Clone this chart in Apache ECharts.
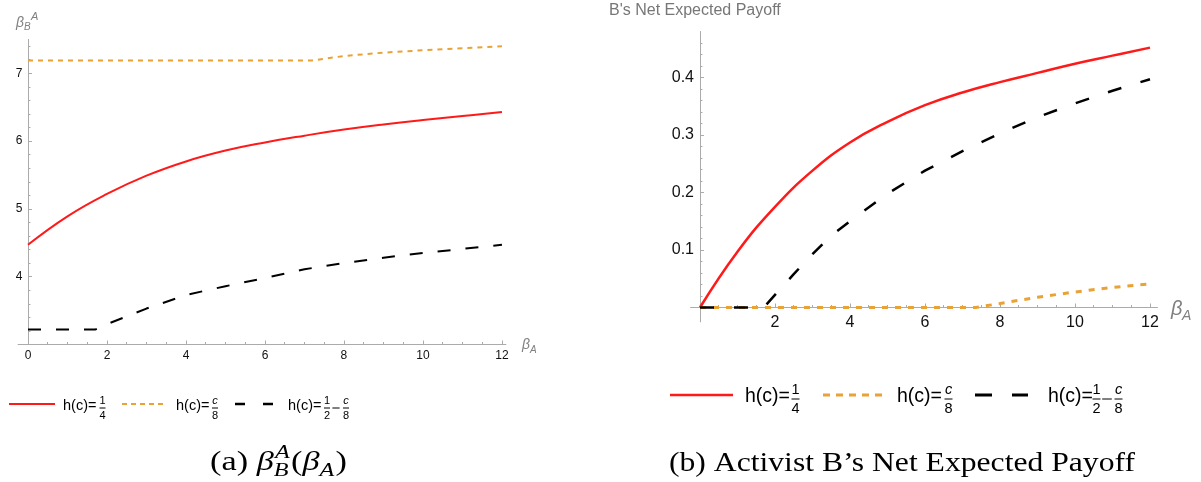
<!DOCTYPE html>
<html><head><meta charset="utf-8">
<script src="https://cdn.jsdelivr.net/npm/echarts@6/dist/echarts.min.js"></script>
<style>html,body{margin:0;padding:0;background:#fff}#c{width:1201px;height:482px}</style>
</head><body><div id="c"></div>
<script>
// ---------- DATA ----------
// Panel (a): beta_B^A as a function of beta_A
const xRedA = [0, 1, 2, 3, 4, 5, 6, 7, 8, 9, 10, 11, 12];
const redA  = [4.47, 4.89, 5.22, 5.49, 5.70, 5.86, 5.98, 6.08, 6.17, 6.245, 6.31, 6.37, 6.43];
const xOrgA = [0, 2, 4, 6, 7.2, 8, 9, 10, 11, 12];
const orgA  = [7.19, 7.19, 7.19, 7.19, 7.19, 7.255, 7.305, 7.34, 7.37, 7.40];
const xBlkA = [0, 1.7, 2, 3, 4, 5, 6, 7, 8, 9, 10, 11, 12];
const blkA  = [3.22, 3.22, 3.30, 3.53, 3.73, 3.86, 3.98, 4.11, 4.20, 4.28, 4.35, 4.41, 4.47];
// Panel (b): B's net expected payoff
const xRedB = [0, 1, 2, 3, 4, 5, 6, 7, 8, 9, 10, 11, 12];
const redB  = [0, 0.097, 0.175, 0.238, 0.287, 0.323, 0.352, 0.374, 0.392, 0.408, 0.424, 0.438, 0.452];
const xOrgB = [0, 2, 4, 6, 7.35, 8, 9, 10, 11, 12];
const orgB  = [0, 0, 0, 0, 0, 0.007, 0.018, 0.027, 0.035, 0.041];
const xBlkB = [0, 1.7, 2, 2.5, 3, 3.5, 4, 5, 6, 7, 8, 9, 10, 11, 12];
const blkB  = [0, 0, 0.022, 0.058, 0.093, 0.125, 0.150, 0.198, 0.238, 0.272, 0.303, 0.331, 0.355, 0.377, 0.397];
// Tick values / labels
const xMajorA = [0, 2, 4, 6, 8, 10, 12];
const xMinorA = [0.5, 1, 1.5, 2.5, 3, 3.5, 4.5, 5, 5.5, 6.5, 7, 7.5, 8.5, 9, 9.5, 10.5, 11, 11.5];
const yMajorA = [4, 5, 6, 7];
const yMinorA = [3.2, 3.4, 3.6, 3.8, 4.2, 4.4, 4.6, 4.8, 5.2, 5.4, 5.6, 5.8, 6.2, 6.4, 6.6, 6.8, 7.2, 7.4];
const xMajorB = [2, 4, 6, 8, 10, 12];
const xMinorB = [0.5, 1, 1.5, 2.5, 3, 3.5, 4.5, 5, 5.5, 6.5, 7, 7.5, 8.5, 9, 9.5, 10.5, 11, 11.5];
const yMajorB = [0.1, 0.2, 0.3, 0.4];
const yMinorB = [0.02, 0.04, 0.06, 0.08, 0.12, 0.14, 0.16, 0.18, 0.22, 0.24, 0.26, 0.28, 0.32, 0.34, 0.36, 0.38, 0.42, 0.44, 0.46];
const seriesNames = ['h(c)=1/4', 'h(c)=c/8', 'h(c)=1/2−c/8'];

// ---------- CHART ----------
const GREY = '#ababab';
const SANS = '"Liberation Sans", Arial, sans-serif';
const SERIF = '"Liberation Serif", "Times New Roman", serif';
const RED = '#ff1a1a', ORG = '#e8a235', BLK = '#000000';
const pairs = (xs, ys) => xs.map((x, i) => [x, ys[i]]);

function axisPair(dim, gi, min, max, major, minor, labels, fs, margin) {
  const base = {gridIndex: gi, type: 'value', min: min, max: max, position: dim === 'x' ? 'bottom' : 'left',
    splitLine: {show: false}, minorTick: {show: false}, minorSplitLine: {show: false}};
  return [
    Object.assign({}, base, {
      axisLine: {show: true, onZero: true, lineStyle: {color: GREY, width: 1}},
      axisTick: {show: true, inside: true, length: 4, customValues: major, lineStyle: {color: GREY, width: 1}},
      axisLabel: {show: true, customValues: labels, fontSize: fs, fontFamily: SANS, color: '#111', margin: margin}
    }),
    Object.assign({}, base, {
      axisLine: {show: false, onZero: true},
      axisTick: {show: true, inside: true, length: 2.5, customValues: minor, lineStyle: {color: GREY, width: 1}},
      axisLabel: {show: false}
    })
  ];
}

const xAxes = [].concat(
  axisPair('x', 0, -0.25, 12.1, xMajorA, xMinorA, xMajorA, 12, 5),
  axisPair('x', 1, -0.25, 12.2, xMajorB, xMinorB, xMajorB, 16, -7.5)
);
const yAxes = [].concat(
  axisPair('y', 0, 3, 7.5, yMajorA, yMinorA, yMajorA, 12, -4.4),
  axisPair('y', 1, -0.025, 0.48, yMajorB, yMinorB, yMajorB, 16, -3.4)
);

function line(name, xi, yi, xs, ys, color, width, dash, smooth) {
  return {name: name, type: 'line', xAxisIndex: xi, yAxisIndex: yi, data: pairs(xs, ys),
    showSymbol: false, symbol: 'none', smooth: smooth || false, clip: false, silent: true,
    lineStyle: {color: color, width: width, type: dash || 'solid', cap: 'butt'}};
}

const series = [
  line(seriesNames[0], 0, 0, xRedA, redA, RED, 2, null, 0.45),
  line(seriesNames[1], 0, 0, xOrgA, orgA, ORG, 2, [5, 5]),
  line(seriesNames[2], 0, 0, xBlkA, blkA, BLK, 2, [13, 15]),
  line(seriesNames[0], 2, 2, xRedB, redB, RED, 2.5, null, 0.45),
  line(seriesNames[1], 2, 2, xOrgB, orgB, ORG, 3, [6, 7]),
  line(seriesNames[2], 2, 2, xBlkB, blkB, BLK, 2.5, [14, 20])
];

// ---------- GRAPHIC: titles, legends, captions ----------
const mctx = document.createElement('canvas').getContext('2d');
function tw(t, font) { mctx.font = font; return mctx.measureText(t).width; }
function T(text, x, y, size, opts) {
  opts = opts || {};
  const st = {text: text, fontSize: size, fontFamily: opts.family || SANS, fontStyle: opts.italic ? 'italic' : 'normal',
    fill: opts.color || '#000', align: opts.align || 'left', verticalAlign: opts.valign || 'middle'};
  return {type: 'text', x: x, y: y, silent: true, style: st};
}
function L(x1, y1, x2, y2, color, w, dash) {
  return {type: 'line', silent: true, shape: {x1: x1, y1: y1, x2: x2, y2: y2},
    style: {stroke: color, lineWidth: w, lineDash: dash || null, lineCap: 'butt'}};
}
function frac(xc, ym, num, den, fs, numItalic, denItalic, barW) {
  return [
    T(num, xc, ym - fs * 0.62, fs, {align: 'center', italic: numItalic}),
    L(xc - barW / 2, ym, xc + barW / 2, ym, '#000', 1),
    T(den, xc, ym + fs * 0.68, fs, {align: 'center', italic: denItalic})
  ];
}
function legend(cfg) {
  const y = cfg.y, fs = cfg.fs, ff = cfg.ffs, by = y + cfg.barDy;
  let els = [];
  els.push(L(cfg.r[0], y, cfg.r[1], y, RED, cfg.lw));
  els.push(T('h(c)=', cfg.t[0], y + cfg.tDy, fs));
  els = els.concat(frac(cfg.f1, by, '1', '4', ff, false, false, cfg.bw));
  els.push(L(cfg.o[0], y, cfg.o[1], y, ORG, cfg.lwo, cfg.odash));
  els.push(T('h(c)=', cfg.t[1], y + cfg.tDy, fs));
  els = els.concat(frac(cfg.f2, by, 'c', '8', ff, true, false, cfg.bw));
  els.push(L(cfg.b[0], y, cfg.b[1], y, BLK, cfg.lwb, cfg.bdash));
  els.push(T('h(c)=', cfg.t[2], y + cfg.tDy, fs));
  els = els.concat(frac(cfg.f3, by, '1', '2', ff, false, false, cfg.bw));
  els.push(L(cfg.m - cfg.bw * 0.6, by, cfg.m + cfg.bw * 0.6, by, '#000', 1));
  els = els.concat(frac(cfg.f4, by, 'c', '8', ff, true, false, cfg.bw));
  return els;
}

const legA = legend({y: 404, fs: 14.5, ffs: 11, barDy: 4, tDy: 2, lw: 2, lwo: 2, lwb: 2.5,
  r: [9, 55], t: [63, 176, 288], f1: 102.5, o: [122, 166], odash: [5, 4], f2: 215,
  b: [235, 273], bdash: [10, 18], f3: 327, m: 336, f4: 346, bw: 6});
const legB = legend({y: 395, fs: 19.5, ffs: 14.5, barDy: 4, tDy: 2, lw: 2.5, lwo: 3, lwb: 3,
  r: [670, 733], t: [745, 897, 1048], f1: 795.5, o: [823, 882], odash: [7, 6], f2: 948.5,
  b: [975, 1028], bdash: [17, 20], f3: 1096.5, m: 1107, f4: 1118.5, bw: 8});

// Axis names
const yNameA = [
  T('β', 16, 23, 14, {italic: true, color: '#808080'}),
  T('B', 24, 27, 10, {italic: true, color: '#808080'}),
  T('A', 31, 17, 11, {italic: true, color: '#808080'})
];
const xNameA = [
  T('β', 522, 345, 14, {italic: true, color: '#808080'}),
  T('A', 530, 350, 10, {italic: true, color: '#808080'})
];
const xNameB = [
  T('β', 1171, 309, 20, {italic: true, color: '#808080'}),
  T('A', 1182, 316, 14, {italic: true, color: '#808080'})
];
const titleB = [T("B's Net Expected Payoff", 609, 11, 16, {color: '#777777'})];

// Captions
function captionA(x0, ym, S, targetW) {
  const up = S + 'px ' + SERIF, it = 'italic ' + S + 'px ' + SERIF;
  const sS = Math.round(S * 0.7), sit = 'italic ' + sS + 'px ' + SERIF;
  const kids = [];
  let x = 0;
  kids.push(T('(a) ', x, 0, S, {family: SERIF})); x += tw('(a) ', up);
  kids.push(T('β', x, 0, S, {family: SERIF, italic: true})); x += tw('β', it) + 1;
  kids.push(T('A', x, -S * 0.36, sS, {family: SERIF, italic: true}));
  kids.push(T('B', x - 1, S * 0.3, sS, {family: SERIF, italic: true}));
  x += Math.max(tw('A', sit), tw('B', sit)) + 1;
  kids.push(T('(', x, 0, S, {family: SERIF})); x += tw('(', up);
  kids.push(T('β', x, 0, S, {family: SERIF, italic: true})); x += tw('β', it);
  kids.push(T('A', x, S * 0.3, sS, {family: SERIF, italic: true})); x += tw('A', sit) + 1;
  kids.push(T(')', x, 0, S, {family: SERIF})); x += tw(')', up);
  return {type: 'group', x: x0, y: ym, scaleX: targetW / x, children: kids};
}
function captionB(x0, ym, S, targetW) {
  const txt = '(b) Activist B’s Net Expected Payoff';
  const w = tw(txt, S + 'px ' + SERIF);
  return {type: 'group', x: x0, y: ym, scaleX: targetW / w, children: [T(txt, 0, 0, S, {family: SERIF})]};
}

const graphics = [].concat(legA, legB, yNameA, xNameA, xNameB, titleB,
  [captionA(210, 463, 27, 137), captionB(669, 464, 27, 466)]);

const chart = echarts.init(document.getElementById('c'), null, {renderer: 'canvas', width: 1201, height: 482});
chart.setOption({
  animation: false,
  backgroundColor: '#ffffff',
  grid: [
    {left: 18.1, top: 39.4, width: 487.8, height: 305.1, containLabel: false, outerBoundsMode: 'none'},
    {left: 690.6, top: 31.5, width: 466.9, height: 290.4, containLabel: false, outerBoundsMode: 'none'}
  ],
  xAxis: xAxes,
  yAxis: yAxes,
  series: series,
  graphic: {elements: graphics}
});
</script>
</body></html>
